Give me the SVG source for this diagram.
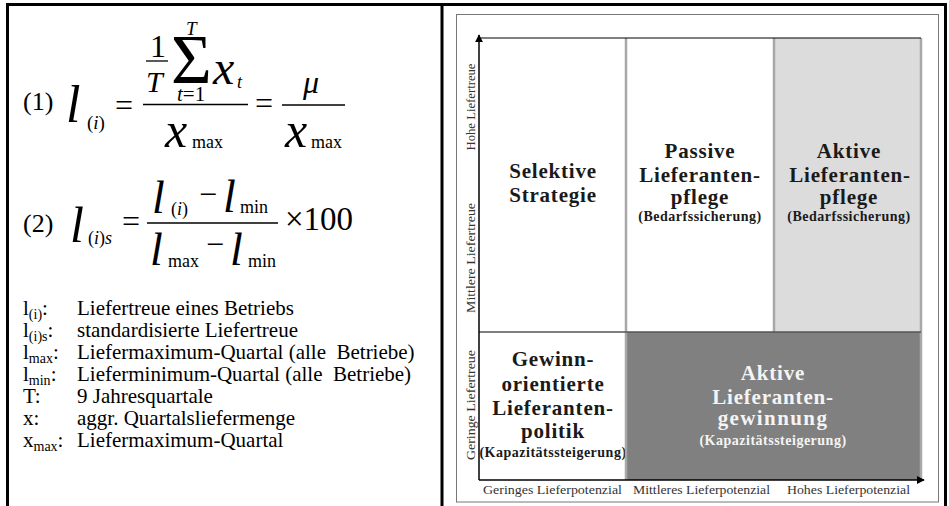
<svg xmlns="http://www.w3.org/2000/svg" width="949" height="506" viewBox="0 0 949 506" font-family="'Liberation Serif', 'DejaVu Serif', serif">
<style>
text{font-family:"Liberation Serif","DejaVu Serif",serif;fill:#000}
.it{font-style:italic}
.leg{font-size:21px;white-space:pre}
.sub{font-size:14px}
.ax{font-size:13.5px;fill:#333}
.cell{font-weight:bold;font-size:21px;letter-spacing:0.8px;text-anchor:middle;fill:#1a1a1a}
.cs{font-weight:bold;font-size:14px;letter-spacing:0.5px;text-anchor:middle;fill:#1a1a1a}
.wt{fill:#f4f4f4}
.gl{stroke:#a8a8a8;stroke-width:2.5}
</style>
<defs>
<marker id="ah" viewBox="0 0 10 10" refX="9" refY="5" markerWidth="8" markerHeight="8" markerUnits="userSpaceOnUse" orient="auto">
<path d="M0,0 L10,5 L0,10 z" fill="#000"/>
</marker>
</defs>
<rect x="0" y="0" width="949" height="506" fill="#fff"/>
<g id="frame" stroke="#000" stroke-width="3" fill="none">
<line x1="6" y1="4.5" x2="947" y2="4.5"/>
<line x1="7.5" y1="3" x2="7.5" y2="506"/>
<line x1="442" y1="3" x2="442" y2="506"/>
<line x1="945.5" y1="3" x2="945.5" y2="506"/>
</g>
<g id="formula1">
<text x="23" y="110" font-size="26">(1)</text>
<text x="66" y="122" font-size="52" class="it">l</text>
<text x="87" y="129" font-size="19">(<tspan class="it">i</tspan>)</text>
<text x="115" y="116" font-size="32">=</text>
<line x1="143" y1="104.5" x2="248" y2="104.5" stroke="#000" stroke-width="1.5"/>
<text x="150" y="57" font-size="32">1</text>
<line x1="146" y1="61" x2="168" y2="61" stroke="#000" stroke-width="1.3"/>
<text x="146" y="92" font-size="30" class="it">T</text>
<text x="171" y="83" font-size="70">Σ</text>
<text x="186" y="35" font-size="19" class="it">T</text>
<text x="177" y="101" font-size="21"><tspan class="it">t</tspan>=1</text>
<text x="213" y="84" font-size="48" class="it">x</text>
<text x="237" y="88" font-size="18" class="it">t</text>
<text x="165" y="147" font-size="50" class="it">x</text>
<text x="192" y="148" font-size="18">max</text>
<text x="255" y="114" font-size="32">=</text>
<line x1="282" y1="105" x2="345" y2="105" stroke="#000" stroke-width="1.5"/>
<text x="303" y="93" font-size="32" class="it">μ</text>
<text x="285" y="147" font-size="50" class="it">x</text>
<text x="311" y="148" font-size="18">max</text>
</g>
<g id="formula2">
<text x="23" y="232" font-size="26">(2)</text>
<text x="70" y="242" font-size="50" class="it">l</text>
<text x="88" y="244" font-size="18">(<tspan class="it">i</tspan>)<tspan class="it">s</tspan></text>
<text x="122" y="232" font-size="32">=</text>
<line x1="147" y1="223" x2="278" y2="223" stroke="#000" stroke-width="1.5"/>
<text x="152" y="213" font-size="46" class="it">l</text>
<text x="171" y="215" font-size="18">(<tspan class="it">i</tspan>)</text>
<text x="199" y="205" font-size="32">−</text>
<text x="223" y="212" font-size="46" class="it">l</text>
<text x="240" y="213" font-size="18">min</text>
<text x="150" y="265" font-size="46" class="it">l</text>
<text x="168" y="267" font-size="18">max</text>
<text x="206" y="255" font-size="32">−</text>
<text x="230" y="265" font-size="46" class="it">l</text>
<text x="248" y="267" font-size="18">min</text>
<text x="285" y="230" font-size="33">×100</text>
</g>
<g id="legend">
<text class="leg" x="23" y="315">l<tspan class="sub" dy="4">(i)</tspan><tspan dy="-4">:</tspan></text>
<text class="leg" x="77" y="315">Liefertreue eines Betriebs</text>
<text class="leg" x="23" y="337">l<tspan class="sub" dy="4">(i)s</tspan><tspan dy="-4">:</tspan></text>
<text class="leg" x="77" y="337">standardisierte Liefertreue</text>
<text class="leg" x="23" y="359">l<tspan class="sub" dy="4">max</tspan><tspan dy="-4">:</tspan></text>
<text class="leg" x="77" y="359">Liefermaximum-Quartal (alle  Betriebe)</text>
<text class="leg" x="23" y="381">l<tspan class="sub" dy="4">min</tspan><tspan dy="-4">:</tspan></text>
<text class="leg" x="77" y="381">Lieferminimum-Quartal (alle  Betriebe)</text>
<text class="leg" x="23" y="403">T:</text>
<text class="leg" x="77" y="403">9 Jahresquartale</text>
<text class="leg" x="23" y="425">x:</text>
<text class="leg" x="77" y="425">aggr. Quartalsliefermenge</text>
<text class="leg" x="23" y="447">x<tspan class="sub" dy="4">max</tspan><tspan dy="-4">:</tspan></text>
<text class="leg" x="77" y="447">Liefermaximum-Quartal</text>
</g>
<rect x="456.5" y="14.5" width="482" height="487.5" fill="#fff" stroke="#777" stroke-width="1"/>
<g id="cell-selektive">
<rect x="479" y="38" width="147" height="294" fill="#fff"/>
<text class="cell" x="553" y="178">Selektive</text>
<text class="cell" x="553" y="202">Strategie</text>
</g>
<g id="cell-passive">
<rect x="626" y="38" width="148" height="294" fill="#fff"/>
<text class="cell" x="700" y="158">Passive</text>
<text class="cell" x="700" y="182">Lieferanten-</text>
<text class="cell" x="700" y="204">pflege</text>
<text class="cs" x="700" y="221">(Bedarfssicherung)</text>
</g>
<g id="cell-aktive-pflege">
<rect x="774" y="38" width="147" height="294" fill="#dcdcdc"/>
<text class="cell" x="849" y="158">Aktive</text>
<text class="cell" x="850" y="182">Lieferanten-</text>
<text class="cell" x="849" y="204">pflege</text>
<text class="cs" x="849" y="221">(Bedarfssicherung)</text>
</g>
<g id="cell-gewinn">
<rect x="479" y="332" width="147" height="148" fill="#fff"/>
<text class="cell" x="553" y="366">Gewinn-</text>
<text class="cell" x="553" y="391">orientierte</text>
<text class="cell" x="553" y="415">Lieferanten-</text>
<text class="cell" x="553" y="438">politik</text>
<text class="cs" x="553" y="457">(Kapazitätssteigerung)</text>
</g>
<g id="cell-aktive-gewinnung">
<rect x="626" y="332" width="295" height="148" fill="#808080"/>
<text class="cell wt" x="773" y="380">Aktive</text>
<text class="cell wt" x="773" y="404">Lieferanten-</text>
<text class="cell wt" x="773" y="425" style="letter-spacing:1.4px">gewinnung</text>
<text class="cs wt" x="773" y="445">(Kapazitätssteigerung)</text>
</g>
<g id="connectors">
<line class="gl" x1="626" y1="38" x2="626" y2="480"/>
<line class="gl" x1="774" y1="38" x2="774" y2="332"/>
<line class="gl" x1="921" y1="38" x2="921" y2="480"/>
<line x1="479" y1="332" x2="921" y2="332" stroke="#555" stroke-width="1.5"/>
<line x1="479" y1="38" x2="921" y2="38" stroke="#000" stroke-width="1"/>
<line x1="479" y1="480" x2="479" y2="35" stroke="#000" stroke-width="1.5" marker-end="url(#ah)"/>
<line x1="479" y1="480" x2="924" y2="480" stroke="#000" stroke-width="1.5" marker-end="url(#ah)"/>
</g>
<g id="axis-labels">
<text class="ax" text-anchor="middle" textLength="87" lengthAdjust="spacingAndGlyphs" transform="translate(475,107) rotate(-90)">Hohe Liefertreue</text>
<text class="ax" text-anchor="middle" textLength="110" lengthAdjust="spacingAndGlyphs" transform="translate(475,258) rotate(-90)">Mittlere Liefertreue</text>
<text class="ax" text-anchor="middle" textLength="110" lengthAdjust="spacingAndGlyphs" transform="translate(475,405) rotate(-90)">Geringe Liefertreue</text>
<text class="ax" text-anchor="middle" textLength="139" lengthAdjust="spacingAndGlyphs" x="552.5" y="494">Geringes Lieferpotenzial</text>
<text class="ax" text-anchor="middle" textLength="137" lengthAdjust="spacingAndGlyphs" x="701.5" y="494">Mittleres Lieferpotenzial</text>
<text class="ax" text-anchor="middle" textLength="123" lengthAdjust="spacingAndGlyphs" x="848.5" y="494">Hohes Lieferpotenzial</text>
</g>
</svg>
